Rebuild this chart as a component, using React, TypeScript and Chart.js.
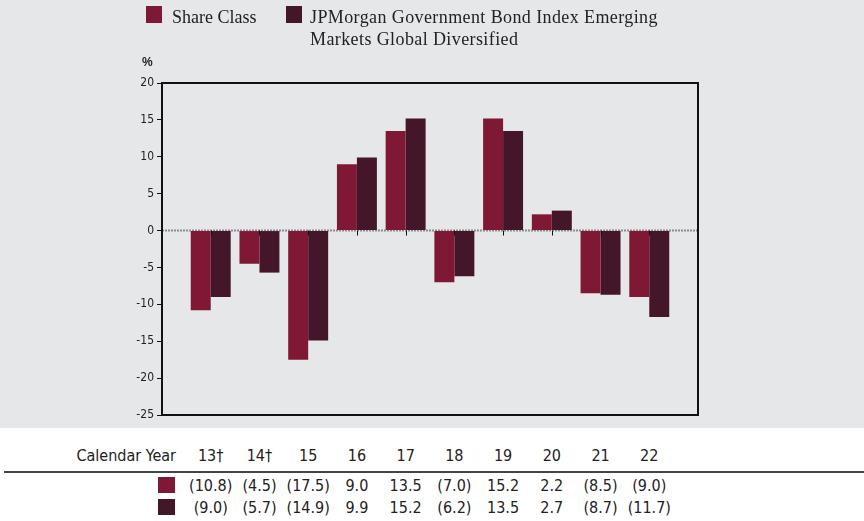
import React, { useEffect, useRef, useState } from "react";
import { Chart, registerables } from "chart.js";

Chart.register(...registerables);

const years = ["13†", "14†", "15", "16", "17", "18", "19", "20", "21", "22"];
const shareClass = [-10.8, -4.5, -17.5, 9.0, 13.5, -7.0, 15.2, 2.2, -8.5, -9.0];
const benchmark = [-9.0, -5.7, -14.9, 9.9, 15.2, -6.2, 13.5, 2.7, -8.7, -11.7];
const shareLabel = "Share Class";
const benchLabel = "JPMorgan Government Bond Index Emerging Markets Global Diversified";
const yMin = -25;
const yMax = 20;
const yStep = 5;

const RED = "#7f1834";
const DARK = "#44162a";
const BG = "#e6e7e9";
const NARROW = '"DejaVu Sans Condensed", "Liberation Sans Narrow", "DejaVu Sans", sans-serif';
const SERIF = '"Liberation Serif", "DejaVu Serif", serif';

const fmt = (v: number) => (v < 0 ? `(${Math.abs(v).toFixed(1)})` : v.toFixed(1));

export default function App() {
  const ref = useRef<HTMLCanvasElement | null>(null);
  const [cols, setCols] = useState<number[]>([]);

  useEffect(() => {
    if (!ref.current) return;
    const labels = ["", ...years, ""];
    const plotDecor = {
      id: "plotDecor",
      beforeDatasetsDraw(chart: any) {
        const { ctx, chartArea, scales } = chart;
        const y0 = scales.y.getPixelForValue(0);
        ctx.save();
        ctx.strokeStyle = "#8c8c8c";
        ctx.lineWidth = 2;
        ctx.setLineDash([2, 1]);
        ctx.beginPath();
        ctx.moveTo(chartArea.left, y0);
        ctx.lineTo(chartArea.right, y0);
        ctx.stroke();
        ctx.restore();
      },
      afterDatasetsDraw(chart: any) {
        const { ctx, chartArea, scales } = chart;
        const y0 = scales.y.getPixelForValue(0);
        ctx.save();
        ctx.strokeStyle = "#111";
        ctx.lineWidth = 1;
        for (let i = 1; i <= years.length; i++) {
          const x = Math.round(scales.x.getPixelForValue(i)) + 0.5;
          ctx.beginPath();
          ctx.moveTo(x, y0);
          ctx.lineTo(x, y0 + 5);
          ctx.stroke();
        }
        ctx.lineWidth = 2;
        ctx.strokeStyle = "#111";
        ctx.strokeRect(chartArea.left, chartArea.top, chartArea.right - chartArea.left, chartArea.bottom - chartArea.top);
        ctx.restore();
      },
    };
    const chart = new Chart(ref.current, {
      type: "bar",
      data: {
        labels,
        datasets: [
          { label: shareLabel, data: [null, ...shareClass, null], backgroundColor: RED },
          { label: benchLabel, data: [null, ...benchmark, null], backgroundColor: DARK },
        ],
      },
      options: {
        responsive: false,
        animation: false,
        devicePixelRatio: 1,
        layout: { padding: { left: 0, top: 83, right: 166, bottom: 13 } },
        datasets: { bar: { categoryPercentage: 0.82, barPercentage: 1 } },
        plugins: { legend: { display: false }, tooltip: { enabled: false } },
        scales: {
          x: { display: false, offset: false },
          y: {
            min: yMin,
            max: yMax,
            afterFit: (s: any) => {
              s.width = 162;
            },
            border: { display: false },
            grid: { drawOnChartArea: false, tickLength: 5, color: "#111", lineWidth: 1 },
            ticks: {
              stepSize: yStep,
              padding: 3,
              color: "#222",
              font: { family: NARROW, size: 12 },
            },
          },
        },
      },
      plugins: [plotDecor],
    });
    setCols(years.map((_, i) => chart.scales.x.getPixelForValue(i + 1)));
    return () => chart.destroy();
  }, []);

  const sq = (left: number, top: number, color: string, w = 16, h = 16): React.CSSProperties => ({
    position: "absolute",
    left,
    top,
    width: w,
    height: h,
    background: color,
  });
  const tableFont: React.CSSProperties = {
    fontFamily: NARROW,
    fontStretch: "condensed",
    fontSize: 16,
    color: "#222",
    lineHeight: "20px",
    whiteSpace: "nowrap",
  };
  const cell = (cx: number, top: number): React.CSSProperties => ({
    position: "absolute",
    left: cx - 30,
    width: 60,
    top,
    textAlign: "center",
    ...tableFont,
  });

  return (
    <div style={{ position: "absolute", left: 0, top: 0, width: 864, height: 521, background: "#fff", overflow: "hidden" }}>
      <div style={{ position: "absolute", left: 0, top: 0, width: 864, height: 428, background: BG }} />
      <canvas ref={ref} width={864} height={428} style={{ position: "absolute", left: 0, top: 0, width: 864, height: 428 }} />
      <div style={sq(146, 6, RED, 16, 17)} />
      <div style={{ position: "absolute", left: 172, top: 6, fontFamily: SERIF, fontSize: 18, lineHeight: "22px", color: "#222" }}>{shareLabel}</div>
      <div style={sq(286, 6, DARK, 16, 17)} />
      <div style={{ position: "absolute", left: 310, top: 6, width: 400, fontFamily: SERIF, fontSize: 18, lineHeight: "22px", letterSpacing: 0.4, color: "#222", whiteSpace: "nowrap" }}>
        JPMorgan Government Bond Index Emerging
        <br />
        Markets Global Diversified
      </div>
      <div style={{ position: "absolute", left: 142, top: 55, fontFamily: '"Liberation Sans", Arial, sans-serif', fontWeight: "bold", fontSize: 12, color: "#222" }}>%</div>
      <div style={{ position: "absolute", left: 20, width: 156, top: 446, textAlign: "right", ...tableFont }}>Calendar Year</div>
      {cols.map((cx, i) => (
        <div key={"h" + i} style={cell(cx, 446)}>{years[i]}</div>
      ))}
      <div style={{ position: "absolute", left: 4, top: 471, width: 860, height: 2, background: "#444" }} />
      <div style={sq(158, 477, RED, 17, 16)} />
      <div style={sq(158, 499, DARK, 17, 16)} />
      {cols.map((cx, i) => (
        <div key={"a" + i} style={cell(cx, 476)}>{fmt(shareClass[i])}</div>
      ))}
      {cols.map((cx, i) => (
        <div key={"b" + i} style={cell(cx, 498)}>{fmt(benchmark[i])}</div>
      ))}
    </div>
  );
}
